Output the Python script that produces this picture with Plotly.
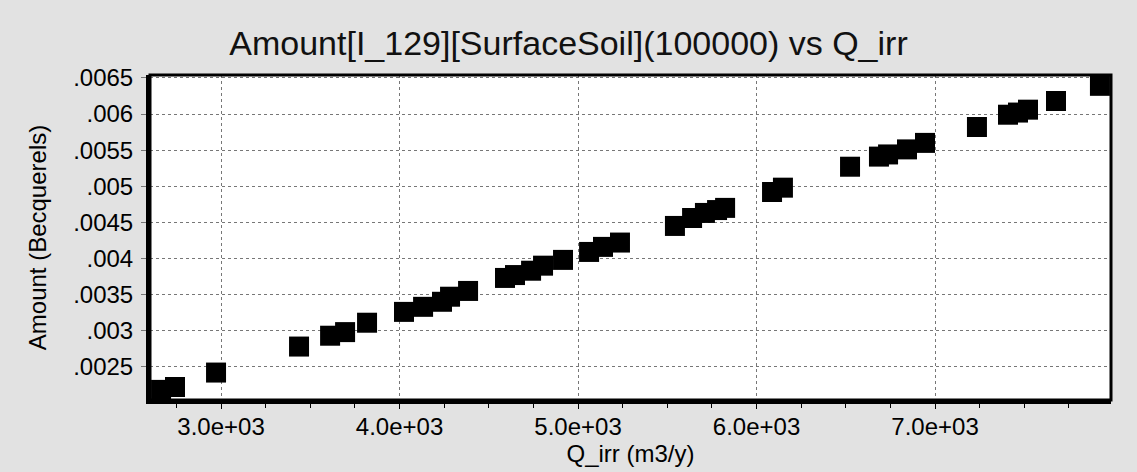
import plotly.graph_objects as go

q_irr = [2664, 2742, 2972, 3437, 3611, 3695, 3818, 4025, 4132, 4238, 4283, 4384,
         4591, 4647, 4737, 4804, 4916, 5062, 5140, 5235, 5543, 5639, 5711, 5779,
         5824, 6087, 6148, 6524, 6686, 6737, 6843, 6944, 7235, 7409, 7465, 7521,
         7678, 7924]
amount = [0.00218, 0.00222, 0.00242, 0.00278, 0.00293, 0.00298, 0.00311, 0.00326,
          0.00333, 0.00340, 0.00347, 0.00355, 0.00373, 0.00377, 0.00383, 0.00390,
          0.00398, 0.00409, 0.00416, 0.00422, 0.00445, 0.00456, 0.00463, 0.00467,
          0.00470, 0.00492, 0.00498, 0.00527, 0.00541, 0.00544, 0.00551, 0.00560,
          0.00582, 0.00599, 0.00602, 0.00606, 0.00618, 0.00639]

x_tickvals = [3000, 4000, 5000, 6000, 7000]
x_ticktext = ["3.0e+03", "4.0e+03", "5.0e+03", "6.0e+03", "7.0e+03"]
y_tickvals = [0.0025, 0.003, 0.0035, 0.004, 0.0045, 0.005, 0.0055, 0.006, 0.0065]
y_ticktext = [".0025", ".003", ".0035", ".004", ".0045", ".005", ".0055", ".006", ".0065"]

FONT = "Liberation Sans, Arial, sans-serif"

fig = go.Figure()
fig.add_trace(go.Scatter(
    x=q_irr, y=amount, mode="markers",
    marker=dict(symbol="square", size=20, color="black", line=dict(width=0)),
    showlegend=False,
))

fig.update_layout(
    width=1137, height=472,
    margin=dict(l=150, r=26, t=75, b=72),
    paper_bgcolor="#e2e2e2",
    plot_bgcolor="white",
    font=dict(family=FONT, color="black"),
    title=dict(text="Amount[I_129][SurfaceSoil](100000) vs Q_irr",
               x=0.5, xanchor="center", y=0.908, yanchor="middle",
               font=dict(size=34, family=FONT, color="#111")),
)

fig.update_xaxes(
    range=[2602, 7986], automargin=False,
    tickvals=x_tickvals, ticktext=x_ticktext,
    tickfont=dict(size=24, family=FONT),
    ticks="outside", ticklen=5, tickwidth=1, tickcolor="black",
    ticklabelstandoff=-3,
    minor=dict(dtick=250, tick0=0, ticks="outside", ticklen=4, tickcolor="black", showgrid=False),
    showline=True, linewidth=4, linecolor="black",
    showgrid=True, gridcolor="#777", griddash="dot", gridwidth=1,
    zeroline=False,
    title=dict(text="Q_irr (m3/y)", font=dict(size=24, family=FONT), standoff=7),
)
fig.update_yaxes(
    range=[0.00204, 0.00654], automargin=False,
    tickvals=y_tickvals, ticktext=y_ticktext,
    tickfont=dict(size=24, family=FONT),
    ticks="outside", ticklen=5, tickwidth=1, tickcolor="#777",
    ticklabelstandoff=3,
    showline=True, linewidth=4, linecolor="black",
    showgrid=True, gridcolor="#777", griddash="dot", gridwidth=1,
    zeroline=False,
    title=dict(text="Amount (Becquerels)", font=dict(size=24, family=FONT), standoff=21),
)

fig.add_shape(type="rect", xref="paper", yref="paper", x0=0, y0=0, x1=1, y1=1,
              line=dict(color="black", width=3), fillcolor="rgba(0,0,0,0)", layer="above")

fig.write_html("out.html", config={"displayModeBar": False},
               post_script="document.body.style.margin='0';document.body.style.overflow='hidden';")
